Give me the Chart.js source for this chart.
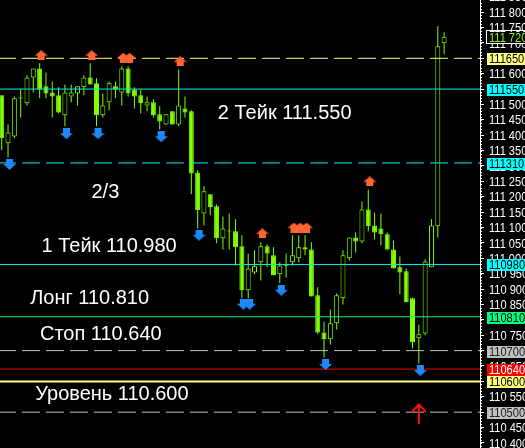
<!DOCTYPE html>
<html>
<head>
<meta charset="utf-8">
<script src="https://cdn.jsdelivr.net/npm/chart.js@4.4.0/dist/chart.umd.min.js"></script>
<style>
html, body { margin: 0; padding: 0; background: #000; overflow: hidden; }
canvas { display: block; }
</style>
</head>
<body>
<canvas id="mycanvas" width="525" height="448"></canvas>
<script>
// candles (oldest first)
var opens  = [111.530,111.374,111.396,111.520,111.504,111.588,111.617,111.559,111.539,111.530,
              111.465,111.526,111.536,111.556,111.588,111.569,111.465,111.507,111.559,111.539,
              111.617,111.549,111.530,111.497,111.507,111.468,111.435,111.478,111.435,111.487,
              111.478,111.279,111.146,111.208,111.169,111.065,111.088,111.088,111.039,110.896,
              110.954,110.987,111.039,111.010,110.948,110.977,110.987,111.000,111.036,111.029,
              110.880,110.759,110.737,110.789,110.870,111.000,111.068,111.055,111.159,111.107,
              111.097,111.078,111.029,110.971,110.958,110.870,110.740,110.756,110.971,111.104,
              111.699];
var highs  = [111.530,111.435,111.526,111.549,111.595,111.617,111.634,111.604,111.575,111.556,
              111.565,111.565,111.559,111.595,111.634,111.585,111.536,111.575,111.575,111.624,
              111.624,111.556,111.549,111.526,111.517,111.494,111.468,111.478,111.614,111.526,
              111.481,111.286,111.234,111.208,111.175,111.136,111.146,111.127,111.075,111.016,
              111.026,111.052,111.045,111.036,110.987,111.016,111.075,111.075,111.075,111.052,
              110.906,110.795,110.834,110.886,111.026,111.068,111.084,111.185,111.224,111.149,
              111.146,111.084,111.058,111.006,110.967,110.873,110.785,110.997,111.127,111.754,
              111.735];
var lows   = [111.351,111.328,111.390,111.458,111.497,111.539,111.520,111.520,111.458,111.471,
              111.429,111.507,111.497,111.530,111.565,111.429,111.458,111.481,111.520,111.497,
              111.526,111.487,111.471,111.478,111.458,111.419,111.435,111.435,111.429,111.458,
              111.208,111.097,111.107,111.140,111.049,111.029,111.029,110.977,110.870,110.870,
              110.948,110.928,110.971,110.945,110.919,110.938,110.977,110.987,111.010,110.876,
              110.753,110.678,110.720,110.769,110.850,110.993,111.019,111.049,111.088,111.062,
              111.042,111.026,110.967,110.883,110.857,110.707,110.658,110.750,110.971,111.068,
              111.663];
var closes = [111.390,111.409,111.520,111.519,111.588,111.617,111.549,111.536,111.526,111.474,
              111.539,111.539,111.559,111.588,111.565,111.465,111.497,111.569,111.549,111.617,
              111.536,111.526,111.504,111.507,111.465,111.445,111.468,111.435,111.497,111.474,
              111.276,111.156,111.218,111.166,111.065,111.097,111.087,111.036,110.896,110.967,
              110.974,111.039,111.016,110.945,110.977,110.976,111.010,111.036,111.029,110.876,
              110.759,110.737,110.789,110.880,111.010,111.068,111.055,111.159,111.104,111.084,
              111.078,111.029,110.967,110.954,110.857,110.727,110.753,110.990,111.107,111.689,
              111.720];

// fractal arrows: candle index and price
var upArrowX   = [6, 14, 19, 20, 28, 41, 46, 47, 48, 58];
var upArrowY   = [111.660, 111.660, 111.652, 111.652, 111.640, 111.081, 111.100, 111.100, 111.100, 111.250];
var downArrowX = [1, 10, 15, 25, 31, 38, 39, 44, 51, 66];
var downArrowY = [111.305, 111.405, 111.405, 111.395, 111.075, 110.851, 110.851, 110.896, 110.655, 110.635];
var buyArrowX  = [66];
var buyArrowY  = [110.496];

// horizontal levels
var levelValues = [111.650, 111.550, 111.310, 110.980, 110.810, 110.700, 110.640, 110.600, 110.500];

// price labels on the axis
var boxValues = [111.720, 111.650, 111.550, 111.310, 110.980, 110.810, 110.700, 110.640, 110.600, 110.500];
var boxTexts  = ['111 720', '111650', '111550', '111310', '110980', '110810', '110700', '110640', '110600', '110500'];

// text objects
var noteTexts = ['2 Тейк 111.550', '2/3', '1 Тейк 110.980', 'Лонг 110.810', 'Стоп 110.640', 'Уровень 110.600'];
var noteX = [34.2, 14.2, 6.3, 4.5, 6.05, 5.3];
var noteY = [111.452, 111.195, 111.019, 110.853, 110.736, 110.541];

var green = '#7FFF00';
var xMin = -0.27, xMax = 75.68;

var levelStyle = [
    { color: '#FFFF80', width: 1, dash: [18, 6] },
    { color: '#00F0F0', width: 1, dash: [] },
    { color: '#00F0F0', width: 1, dash: [18, 6] },
    { color: '#00F0F0', width: 1, dash: [] },
    { color: '#20F090', width: 1, dash: [] },
    { color: '#C0C0C0', width: 1, dash: [18, 6] },
    { color: '#F00000', width: 1, dash: [] },
    { color: '#FFFF80', width: 2, dash: [] },
    { color: '#C0C0C0', width: 1, dash: [18, 6] }
];
var boxStyle = [
    { bg: '#000000', fg: green, border: '#FFFFFF' },
    { bg: '#FFFF80', fg: '#000000' },
    { bg: '#00FFFF', fg: '#000000' },
    { bg: '#00FFFF', fg: '#000000' },
    { bg: '#00FFFF', fg: '#000000' },
    { bg: '#00FF80', fg: '#000000' },
    { bg: '#C0C0C0', fg: '#202020' },
    { bg: '#FF0000', fg: '#FFFFFF' },
    { bg: '#FFFF80', fg: '#000000' },
    { bg: '#C0C0C0', fg: '#202020' }
];

function upIcon() {
    var c = document.createElement('canvas');
    c.width = 16; c.height = 10;
    var g = c.getContext('2d');
    g.fillStyle = '#FF6633';
    g.beginPath(); g.moveTo(9.5, 0); g.lineTo(16, 5.5); g.lineTo(3, 5.5); g.closePath(); g.fill();
    g.fillRect(6, 5, 7, 5);
    return c;
}
function downIcon() {
    var c = document.createElement('canvas');
    c.width = 16; c.height = 11;
    var g = c.getContext('2d');
    g.fillStyle = '#1E88FF';
    g.fillRect(6, 0, 7, 5);
    g.beginPath(); g.moveTo(3, 5); g.lineTo(16, 5); g.lineTo(9.5, 11); g.closePath(); g.fill();
    return c;
}
function buyIcon() {
    var c = document.createElement('canvas');
    c.width = 16; c.height = 21;
    var g = c.getContext('2d');
    g.strokeStyle = '#FF1010'; g.fillStyle = '#FF1010';
    g.fillRect(7, 1, 2, 20);
    g.lineWidth = 2;
    g.beginPath(); g.moveTo(1, 9); g.lineTo(8, 1.5); g.lineTo(15, 9); g.stroke();
    return c;
}

var wicks = [], bodies = [], bodyBg = [];
for (var i = 0; i < opens.length; i++) {
    wicks.push({ x: i, y: [lows[i], highs[i]] });
    bodies.push({ x: i, y: [opens[i], closes[i]] });
    bodyBg.push(closes[i] > opens[i] ? '#000000' : green);
}

var datasets = [];
levelValues.forEach(function(v, k) {
    datasets.push({
        type: 'line',
        data: [{ x: xMin, y: v }, { x: xMax, y: v }],
        borderColor: levelStyle[k].color,
        borderWidth: levelStyle[k].width,
        borderDash: levelStyle[k].dash,
        borderDashOffset: 2,
        pointRadius: 0,
        order: 2
    });
});
datasets.push({
    type: 'bar', data: wicks, backgroundColor: green, borderWidth: 0,
    barThickness: 1, grouped: false, inflateAmount: 0, order: 5
});
datasets.push({
    type: 'bar', data: bodies, backgroundColor: bodyBg, borderColor: green, borderWidth: 1,
    borderSkipped: false, barThickness: 5, grouped: false, inflateAmount: 0, minBarLength: 1, order: 4
});
datasets.push({
    type: 'scatter', data: upArrowX.map(function(x, k) { return { x: x, y: upArrowY[k] }; }),
    pointStyle: upIcon(), pointRadius: 5, order: 1
});
datasets.push({
    type: 'scatter', data: downArrowX.map(function(x, k) { return { x: x, y: downArrowY[k] }; }),
    pointStyle: downIcon(), pointRadius: 5, order: 1
});
datasets.push({
    type: 'scatter', data: buyArrowX.map(function(x, k) { return { x: x, y: buyArrowY[k] }; }),
    pointStyle: buyIcon(), pointRadius: 5, order: 1
});

var overlay = {
    id: 'overlay',
    afterDatasetsDraw: function(chart) {
        var ctx = chart.ctx, xs = chart.scales.x, ys = chart.scales.y;
        ctx.save();
        ctx.fillStyle = '#FFFFFF';
        ctx.font = '20px "Liberation Sans", Arial, sans-serif';
        ctx.textBaseline = 'alphabetic';
        for (var k = 0; k < noteTexts.length; k++) {
            ctx.fillText(noteTexts[k], xs.getPixelForValue(noteX[k]), ys.getPixelForValue(noteY[k]));
        }
        ctx.restore();
    },
    afterDraw: function(chart) {
        var ctx = chart.ctx, ys = chart.scales.y;
        var left = ys.left;
        ctx.save();
        // minor ticks every 10 points
        ctx.strokeStyle = '#FFFFFF';
        ctx.lineWidth = 1;
        for (var m = Math.ceil(ys.min * 100); m <= ys.max * 100; m++) {
            var py = Math.round(ys.getPixelForValue(m / 100)) + 0.5;
            ctx.beginPath(); ctx.moveTo(left, py); ctx.lineTo(left + 2, py); ctx.stroke();
        }
        // tick labels
        ctx.font = '13px "Liberation Sans", Arial, sans-serif';
        ctx.textBaseline = 'middle';
        ctx.fillStyle = '#FFFFFF';
        for (var s = Math.ceil(ys.min / 0.05); s * 0.05 <= ys.max + 0.02; s++) {
            var v = s * 0.05;
            ctx.save();
            ctx.translate(left + 9, ys.getPixelForValue(v) + 1);
            ctx.scale(0.85, 1);
            ctx.fillText(v.toFixed(3).replace('.', ' '), 0, 0);
            ctx.restore();
        }
        // level boxes
        for (var b = 0; b < boxValues.length; b++) {
            var y = Math.round(ys.getPixelForValue(boxValues[b]));
            var st = boxStyle[b];
            ctx.fillStyle = st.bg;
            ctx.fillRect(left + 7, y - 5, 50, 12);
            if (st.border) {
                ctx.strokeStyle = st.border;
                ctx.strokeRect(left + 6.5, y - 6.5, 50, 13);
            }
            ctx.fillStyle = st.fg;
            ctx.save();
            ctx.translate(left + 9, y + 1.5);
            ctx.scale(0.85, 1);
            ctx.fillText(boxTexts[b], 0, 0);
            ctx.restore();
        }
        ctx.restore();
    }
};

var ctx = document.getElementById('mycanvas');
var chart = new Chart(ctx, {
    type: 'bar',
    data: { datasets: datasets },
    options: {
        responsive: false,
        devicePixelRatio: 1,
        animation: false,
        events: [],
        layout: { padding: 0, autoPadding: false },
        plugins: { legend: { display: false }, tooltip: { enabled: false } },
        scales: {
            x: { type: 'linear', min: xMin, max: xMax, display: false, offset: false },
            y: {
                position: 'right',
                min: 110.3835,
                max: 111.8395,
                afterFit: function(scale) { scale.width = 45; },
                border: { display: true, color: '#FFFFFF', width: 1 },
                grid: { drawOnChartArea: false, drawTicks: true, tickLength: 4, color: '#FFFFFF' },
                ticks: { display: false, stepSize: 0.05, includeBounds: false }
            }
        }
    },
    plugins: [overlay]
});
</script>
</body>
</html>
